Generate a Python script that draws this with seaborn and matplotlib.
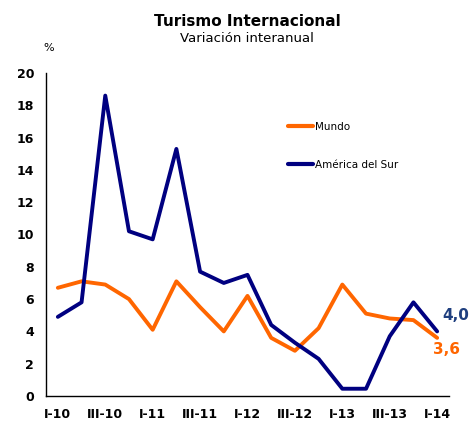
import numpy as np
import pandas as pd
import matplotlib
matplotlib.use("Agg")
import matplotlib.pyplot as plt
import seaborn as sns
from matplotlib.lines import Line2D

quarters = ["I-10", "II-10", "III-10", "IV-10", "I-11", "II-11", "III-11", "IV-11",
            "I-12", "II-12", "III-12", "IV-12", "I-13", "II-13", "III-13", "IV-13", "I-14"]
mundo = [6.7, 7.1, 6.9, 6.0, 4.1, 7.1, 5.5, 4.0, 6.2, 3.6, 2.8, 4.2, 6.9, 5.1, 4.8, 4.7, 3.6]
america_sur = [4.9, 5.8, 18.6, 10.2, 9.7, 15.3, 7.7, 7.0, 7.5, 4.4, 3.3, 2.3, 0.45, 0.45, 3.7, 5.8, 4.0]
series_names = ["Mundo", "América del Sur"]
tick_labels = ["I-10", "III-10", "I-11", "III-11", "I-12", "III-12", "I-13", "III-13", "I-14"]
colors = {"Mundo": "#FF6600", "América del Sur": "#000080"}

sns.set_style("white")
plt.rcParams["font.family"] = ["DejaVu Sans"]
plt.rcParams["text.color"] = "black"
plt.rcParams["xtick.color"] = "black"
plt.rcParams["ytick.color"] = "black"

df = pd.DataFrame({
    "x": list(range(len(quarters))) * 2,
    "valor": mundo + america_sur,
    "serie": [series_names[0]] * len(quarters) + [series_names[1]] * len(quarters),
})

fig = plt.figure(figsize=(4.69, 4.21), dpi=100)
W, H = 469, 421
ax = fig.add_axes([46 / W, 1 - 396 / H, (449 - 46) / W, (396 - 73) / H])

sns.lineplot(data=df, x="x", y="valor", hue="serie", palette=colors, linewidth=2.8,
             ax=ax, legend=False, sort=False)

ax.set_xlim(-0.5, len(quarters) - 0.5)
ax.set_ylim(0, 20)
ax.set_xlabel("")
ax.set_ylabel("")
for s in ["top", "right"]:
    ax.spines[s].set_visible(False)
for s in ["left", "bottom"]:
    ax.spines[s].set_color("#000000")
    ax.spines[s].set_linewidth(1)

ax.set_yticks(np.arange(0, 21, 2))
ax.set_yticklabels([str(v) for v in range(0, 21, 2)], fontsize=9, fontweight="bold")
ax.set_xticks([quarters.index(t) for t in tick_labels])
ax.set_xticklabels(tick_labels, fontsize=9, fontweight="bold")
ax.set_xticks(np.arange(-0.5, len(quarters), 1), minor=True)
ax.tick_params(axis="x", which="major", length=0, pad=9)
ax.tick_params(axis="x", which="minor", length=3.5, width=1, direction="in", color="black")
ax.tick_params(axis="y", length=3.5, width=1, direction="in", color="black", pad=8.5)
ax.grid(False)

handles = [Line2D([0], [0], color=colors[n], lw=3) for n in series_names]
fig.legend(handles, series_names, loc="upper left",
           bbox_to_anchor=(288 / W, 1 - 122 / H), frameon=False, fontsize=7.5,
           borderpad=0, borderaxespad=0, handlelength=2.4, handletextpad=0.15,
           labelspacing=2.7)

ax.text(16.2, 5.0, "4,0", color="#1F3F7F", fontsize=11, fontweight="bold",
        ha="left", va="center", clip_on=False)
ax.text(15.83, 2.85, "3,6", color="#FF6600", fontsize=11, fontweight="bold",
        ha="left", va="center", clip_on=False)

fig.text(247 / W, 1 - 21 / H, "Turismo Internacional", ha="center", va="center",
         fontsize=11, fontweight="bold")
fig.text(247 / W, 1 - 39 / H, "Variación interanual", ha="center", va="center",
         fontsize=9.5)
fig.text(49 / W, 1 - 48 / H, "%", ha="center", va="center", fontsize=8)

fig.savefig("out.png", dpi=100)
